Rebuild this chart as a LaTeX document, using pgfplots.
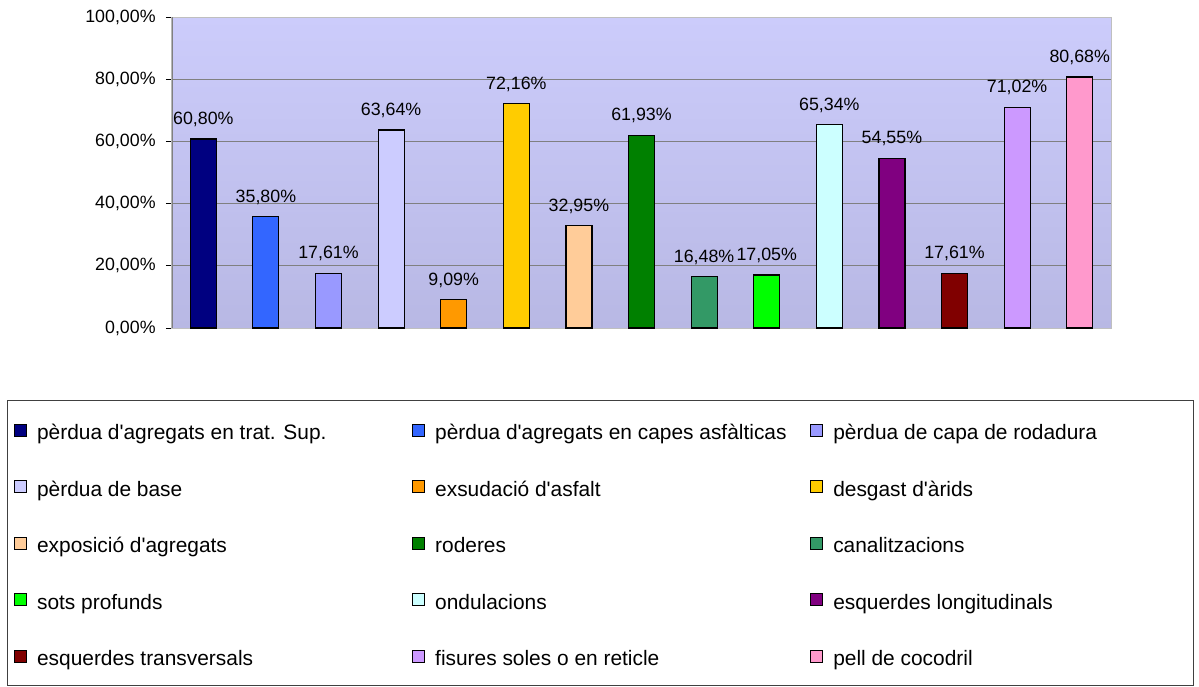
\documentclass[border=0pt]{standalone}
\usepackage{pgfplots}
\pgfplotsset{compat=1.18}
\usepackage{fontspec}
\setmainfont{Liberation Sans}
\newcommand\tickfont{\fontsize{8.9}{10.5}\selectfont}
\newcommand\legfont{\fontsize{10.45}{12.5}\selectfont}
\newcommand\LE[2]{\makebox[#1][l]{#2}}
\newcommand\q{\textquotesingle}
\definecolor{bgtop}{RGB}{204,204,251}
\definecolor{bgbot}{RGB}{184,184,228}
\definecolor{c1}{HTML}{000080}
\definecolor{c2}{HTML}{3366FF}
\definecolor{c3}{HTML}{9999FF}
\definecolor{c4}{HTML}{CCCCFF}
\definecolor{c5}{HTML}{FF9900}
\definecolor{c6}{HTML}{FFCC00}
\definecolor{c7}{HTML}{FFCC99}
\definecolor{c8}{HTML}{008000}
\definecolor{c9}{HTML}{339966}
\definecolor{c10}{HTML}{00FF00}
\definecolor{c11}{HTML}{CCFFFF}
\definecolor{c12}{HTML}{800080}
\definecolor{c13}{HTML}{800000}
\definecolor{c14}{HTML}{CC99FF}
\definecolor{c15}{HTML}{FF99CC}
\begin{document}
\begin{tikzpicture}
\begin{axis}[
  scale only axis, width=469.5pt, height=155.5pt,
  xmin=0.5, xmax=15.5, ymin=0, ymax=100,
  ybar, bar width=13pt, bar shift=0pt,
  xtick=\empty, ytick={0,20,...,100}, ytick pos=left,
  tick align=outside, major tick length=3pt,
  tick style={black, line width=0.5pt},
  ymajorgrids, grid style={draw=black!50, line width=0.5pt},
  axis line style={draw=black!25, line width=0.5pt},
  axis background/.style={shade, top color=bgtop, bottom color=bgbot},
  /pgf/number format/assume math mode=true,
  yticklabel={\pgfmathprintnumber[fixed,fixed zerofill,precision=2,use comma]{\tick}\%},
  yticklabel style={font=\tickfont, inner sep=0pt, anchor=east, xshift=-5pt},
  nodes near coords={\pgfmathprintnumber[fixed,fixed zerofill,precision=2,use comma]{\pgfplotspointmeta}\%},
  every node near coord/.append style={font=\tickfont, anchor=base, inner sep=0pt, yshift=7.25pt, text=black},
  legend columns=3,
  legend image code/.code={\draw[#1,draw=black,line width=0.5pt] (0pt,-3pt) rectangle (6pt,3pt); \path (11pt,0pt);},
  legend style={at={(axis description cs:-0.17572,-0.23151)}, anchor=north west,
    draw=black!75, line width=0.5pt, fill=white, inner xsep=3.25pt, inner ysep=0.625pt,
    row sep=0pt, column sep=0pt,
    nodes={inner sep=0pt, text height=18.875pt, text depth=9.375pt, anchor=west},
    font=\legfont},
  every axis plot/.append style={draw=black, line width=0.6pt},
]
\addplot[fill=c1] coordinates {(1,60.80)};
\addlegendentry{\LE{187.5pt}{pèrdua d\q agregats en trat. Sup.}}
\addplot[fill=c2] coordinates {(2,35.80)};
\addlegendentry{\LE{187.5pt}{pèrdua d\q agregats en capes asfàlticas}}
\addplot[fill=c3] coordinates {(3,17.61)};
\addlegendentry{\LE{177pt}{pèrdua de capa de rodadura}}
\addplot[fill=c4] coordinates {(4,63.64)};
\addlegendentry{\LE{187.5pt}{pèrdua de base}}
\addplot[fill=c5] coordinates {(5,9.09)};
\addlegendentry{\LE{187.5pt}{exsudació d\q asfalt}}
\addplot[fill=c6] coordinates {(6,72.16)};
\addlegendentry{\LE{177pt}{desgast d\q àrids}}
\addplot[fill=c7] coordinates {(7,32.95)};
\addlegendentry{\LE{187.5pt}{exposició d\q agregats}}
\addplot[fill=c8] coordinates {(8,61.93)};
\addlegendentry{\LE{187.5pt}{roderes}}
\addplot[fill=c9] coordinates {(9,16.48)};
\addlegendentry{\LE{177pt}{canalitzacions}}
\addplot[fill=c10] coordinates {(10,17.05)};
\addlegendentry{\LE{187.5pt}{sots profunds}}
\addplot[fill=c11] coordinates {(11,65.34)};
\addlegendentry{\LE{187.5pt}{ondulacions}}
\addplot[fill=c12] coordinates {(12,54.55)};
\addlegendentry{\LE{177pt}{esquerdes longitudinals}}
\addplot[fill=c13] coordinates {(13,17.61)};
\addlegendentry{\LE{187.5pt}{esquerdes transversals}}
\addplot[fill=c14] coordinates {(14,71.02)};
\addlegendentry{\LE{187.5pt}{fisures soles o en reticle}}
\addplot[fill=c15] coordinates {(15,80.68)};
\addlegendentry{\LE{177pt}{pell de cocodril}}
\draw[black!50, line width=0.75pt] (rel axis cs:0,0) -- (rel axis cs:0,1);
\end{axis}
\pgfresetboundingbox
\path[use as bounding box] (-86pt,-179pt) rectangle (513.5pt,164pt);
\end{tikzpicture}
\end{document}
